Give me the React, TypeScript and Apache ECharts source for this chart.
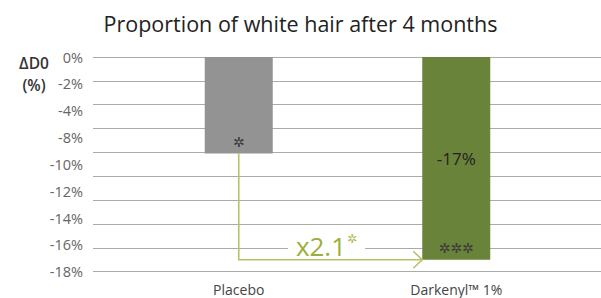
import React, { useEffect, useRef } from "react";
import * as echarts from "echarts";

const categories = ["Placebo", "Darkenyl™ 1%"];
const values = [-8.1, -17];
const valueLabels = ["", "-17%"];
const sigLabels = ["✲", "✲✲✲"];
const barColors = ["#939393", "#6a833a"];
const tickLabels = ["0%", "-2%", "-4%", "-8%", "-10%", "-12%", "-14%", "-16%", "-18%"];
const ratioLabel = "x2.1";
const ratioSig = "✲";

const FONT = "'Open Sans', sans-serif";
const SYM = "'DejaVu Sans', sans-serif";

export default function App() {
  const ref = useRef<HTMLDivElement>(null);
  useEffect(() => {
    const chart = echarts.init(ref.current!, null, { renderer: "svg" });
    const barWidth = 68;
    chart.setOption({
      animation: false,
      backgroundColor: "#ffffff",
      title: [
        {
          text: "Proportion of white hair after 4 months",
          left: "center",
          top: 7,
          textStyle: { fontFamily: FONT, fontSize: 21.5, fontWeight: "normal", color: "#222222" },
        },
        {
          text: "ΔD0\n(%)",
          left: 29,
          top: 47,
          textAlign: "center",
          textStyle: { fontFamily: FONT, fontSize: 15.5, fontWeight: 600, color: "#333333", lineHeight: 22 },
        },
      ],
      grid: [
        { left: 93, right: 0, top: 57, bottom: 26.3 },
        { left: 130, right: 36, top: 57, bottom: 26.3 },
      ],
      xAxis: [
        { type: "value", gridIndex: 0, min: 0, max: 1, show: false },
        {
          type: "category",
          gridIndex: 1,
          data: categories,
          axisLine: { show: false },
          axisTick: { show: false },
          axisLabel: { fontFamily: FONT, fontSize: 14, color: "#444444", margin: 11 },
        },
      ],
      yAxis: [
        {
          type: "value",
          gridIndex: 0,
          min: -18,
          max: 0,
          interval: 2,
          axisLine: { show: false },
          axisTick: { show: false },
          axisLabel: { show: false },
          splitLine: { lineStyle: { color: "#ababab", width: 1.2 } },
        },
        {
          type: "value",
          gridIndex: 0,
          min: -18,
          max: 0,
          interval: 2.25,
          position: "left",
          axisLine: { show: false },
          axisTick: { show: false },
          splitLine: { show: false },
          axisLabel: {
            fontFamily: FONT,
            fontSize: 14.5,
            color: "#666666",
            margin: 10,
            formatter: (v: number) => tickLabels[Math.round(-v / 2.25)] ?? "",
          },
        },
        { type: "value", gridIndex: 1, min: -18, max: 0, show: false },
      ],
      series: [
        {
          type: "bar",
          xAxisIndex: 1,
          yAxisIndex: 2,
          barWidth,
          data: values.map((v, i) => ({ value: v, itemStyle: { color: barColors[i] } })),
          label: {
            show: true,
            position: "insideBottom",
            distance: 5,
            fontFamily: SYM,
            fontSize: 14,
            color: "#3a3a3a",
            formatter: (p: any) => sigLabels[p.dataIndex],
          },
          z: 2,
        },
        {
          type: "bar",
          xAxisIndex: 1,
          yAxisIndex: 2,
          barWidth,
          barGap: "-100%",
          data: values,
          itemStyle: { color: "rgba(0,0,0,0)" },
          label: {
            show: true,
            position: "inside",
            fontFamily: FONT,
            fontSize: 17,
            color: "#222222",
            formatter: (p: any) => valueLabels[p.dataIndex],
          },
          z: 3,
        },
        {
          type: "custom",
          xAxisIndex: 1,
          yAxisIndex: 2,
          data: [[0, values[0], 1, values[1]]],
          z: 4,
          renderItem: (params: any, api: any) => {
            const p0 = api.coord([api.value(0), api.value(1)]);
            const p1 = api.coord([api.value(2), api.value(3)]);
            const tipX = p1[0] - barWidth / 2;
            const y = p1[1];
            const stroke = "#b3c36a";
            const midX = (p0[0] + tipX) / 2;
            return {
              type: "group",
              children: [
                {
                  type: "polyline",
                  shape: { points: [[p0[0], p0[1]], [p0[0], y], [tipX, y]] },
                  style: { stroke, lineWidth: 1.6, fill: "none" },
                },
                {
                  type: "polyline",
                  shape: { points: [[tipX - 9, y - 8.5], [tipX, y], [tipX - 9, y + 8.5]] },
                  style: { stroke, lineWidth: 1.6, fill: "none" },
                },
                {
                  type: "text",
                  x: midX - 4,
                  y: y - 14,
                  style: {
                    text: "{a|" + ratioLabel + "}{b|" + ratioSig + "}",
                    align: "center",
                    verticalAlign: "middle",
                    backgroundColor: "#ffffff",
                    padding: [0, 8],
                    rich: {
                      a: { fontFamily: FONT, fontSize: 26, fill: "#9aae3c", color: "#9aae3c" },
                      b: {
                        fontFamily: SYM,
                        fontSize: 12,
                        fill: "#a9bb4f",
                        color: "#a9bb4f",
                        verticalAlign: "top",
                        padding: [0, 0, 12, 1],
                      },
                    },
                  },
                },
              ],
            };
          },
        },
      ],
    });
    return () => chart.dispose();
  }, []);
  return <div ref={ref} style={{ width: 601, height: 298, position: "absolute", left: 0, top: 0 }} />;
}
